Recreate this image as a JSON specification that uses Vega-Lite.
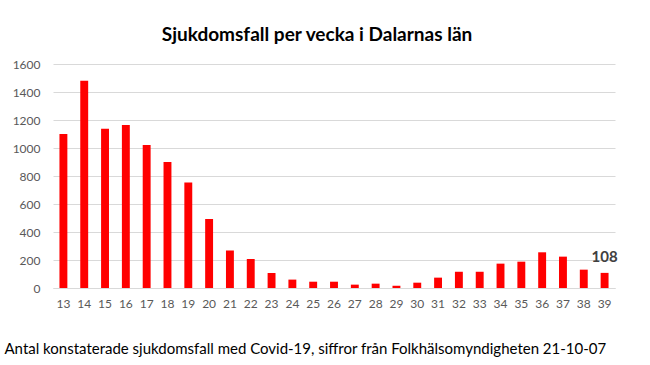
{
  "$schema": "https://vega.github.io/schema/vega-lite/v6.json",
  "width": 562,
  "height": 224,
  "autosize": {"type": "none"},
  "padding": {"left": 53, "top": 64, "right": 35, "bottom": 77},
  "background": "white",
  "config": {"view": {"stroke": null}, "font": "Lato"},
  "title": {
    "text": "Sjukdomsfall per vecka i Dalarnas län",
    "anchor": "middle",
    "frame": "group",
    "dx": -17,
    "offset": 13,
    "font": "Lato",
    "fontSize": 19,
    "fontWeight": "bold",
    "color": "#000000"
  },
  "data": {
    "values": [
      {"vecka": "13", "fall": 1100},
      {"vecka": "14", "fall": 1480},
      {"vecka": "15", "fall": 1137},
      {"vecka": "16", "fall": 1165},
      {"vecka": "17", "fall": 1022},
      {"vecka": "18", "fall": 900},
      {"vecka": "19", "fall": 753},
      {"vecka": "20", "fall": 493},
      {"vecka": "21", "fall": 267},
      {"vecka": "22", "fall": 207},
      {"vecka": "23", "fall": 107},
      {"vecka": "24", "fall": 60},
      {"vecka": "25", "fall": 45},
      {"vecka": "26", "fall": 45},
      {"vecka": "27", "fall": 24},
      {"vecka": "28", "fall": 31},
      {"vecka": "29", "fall": 16},
      {"vecka": "30", "fall": 38},
      {"vecka": "31", "fall": 74},
      {"vecka": "32", "fall": 116},
      {"vecka": "33", "fall": 116},
      {"vecka": "34", "fall": 174},
      {"vecka": "35", "fall": 188},
      {"vecka": "36", "fall": 255},
      {"vecka": "37", "fall": 224},
      {"vecka": "38", "fall": 131},
      {"vecka": "39", "fall": 108}
    ]
  },
  "encoding": {
    "x": {
      "field": "vecka",
      "type": "ordinal",
      "sort": null,
      "scale": {"paddingInner": 0.62, "paddingOuter": 0.31},
      "axis": {
        "title": "Antal konstaterade sjukdomsfall med Covid-19, siffror från Folkhälsomyndigheten 21-10-07",
        "titleFont": "Lato",
        "titleFontSize": 15,
        "titleFontWeight": "normal",
        "titleColor": "#000000",
        "titleAnchor": "start",
        "titleAlign": "left",
        "titleBaseline": "top",
        "titleX": -49,
        "titleY": 53,
        "labelAngle": 0,
        "labelFont": "Lato",
        "labelFontSize": 12,
        "labelColor": "#595959",
        "labelPadding": 10,
        "ticks": false,
        "domain": true,
        "domainColor": "#d9d9d9",
        "domainWidth": 1
      }
    },
    "y": {
      "field": "fall",
      "type": "quantitative",
      "scale": {"domain": [0, 1600], "nice": false},
      "axis": {
        "title": null,
        "format": "d",
        "values": [0, 200, 400, 600, 800, 1000, 1200, 1400, 1600],
        "labelFont": "Lato",
        "labelFontSize": 12,
        "labelColor": "#595959",
        "labelPadding": 13,
        "ticks": false,
        "domain": false,
        "gridColor": "#d9d9d9",
        "gridWidth": 1
      }
    }
  },
  "layer": [
    {"mark": {"type": "bar", "color": "#ff0000"}},
    {
      "transform": [{"filter": "datum.vecka == '39'"}],
      "mark": {
        "type": "text",
        "baseline": "bottom",
        "dy": -8,
        "font": "Lato",
        "fontSize": 15,
        "fontWeight": "bold",
        "color": "#404040"
      },
      "encoding": {"text": {"field": "fall", "type": "quantitative"}}
    }
  ]
}
